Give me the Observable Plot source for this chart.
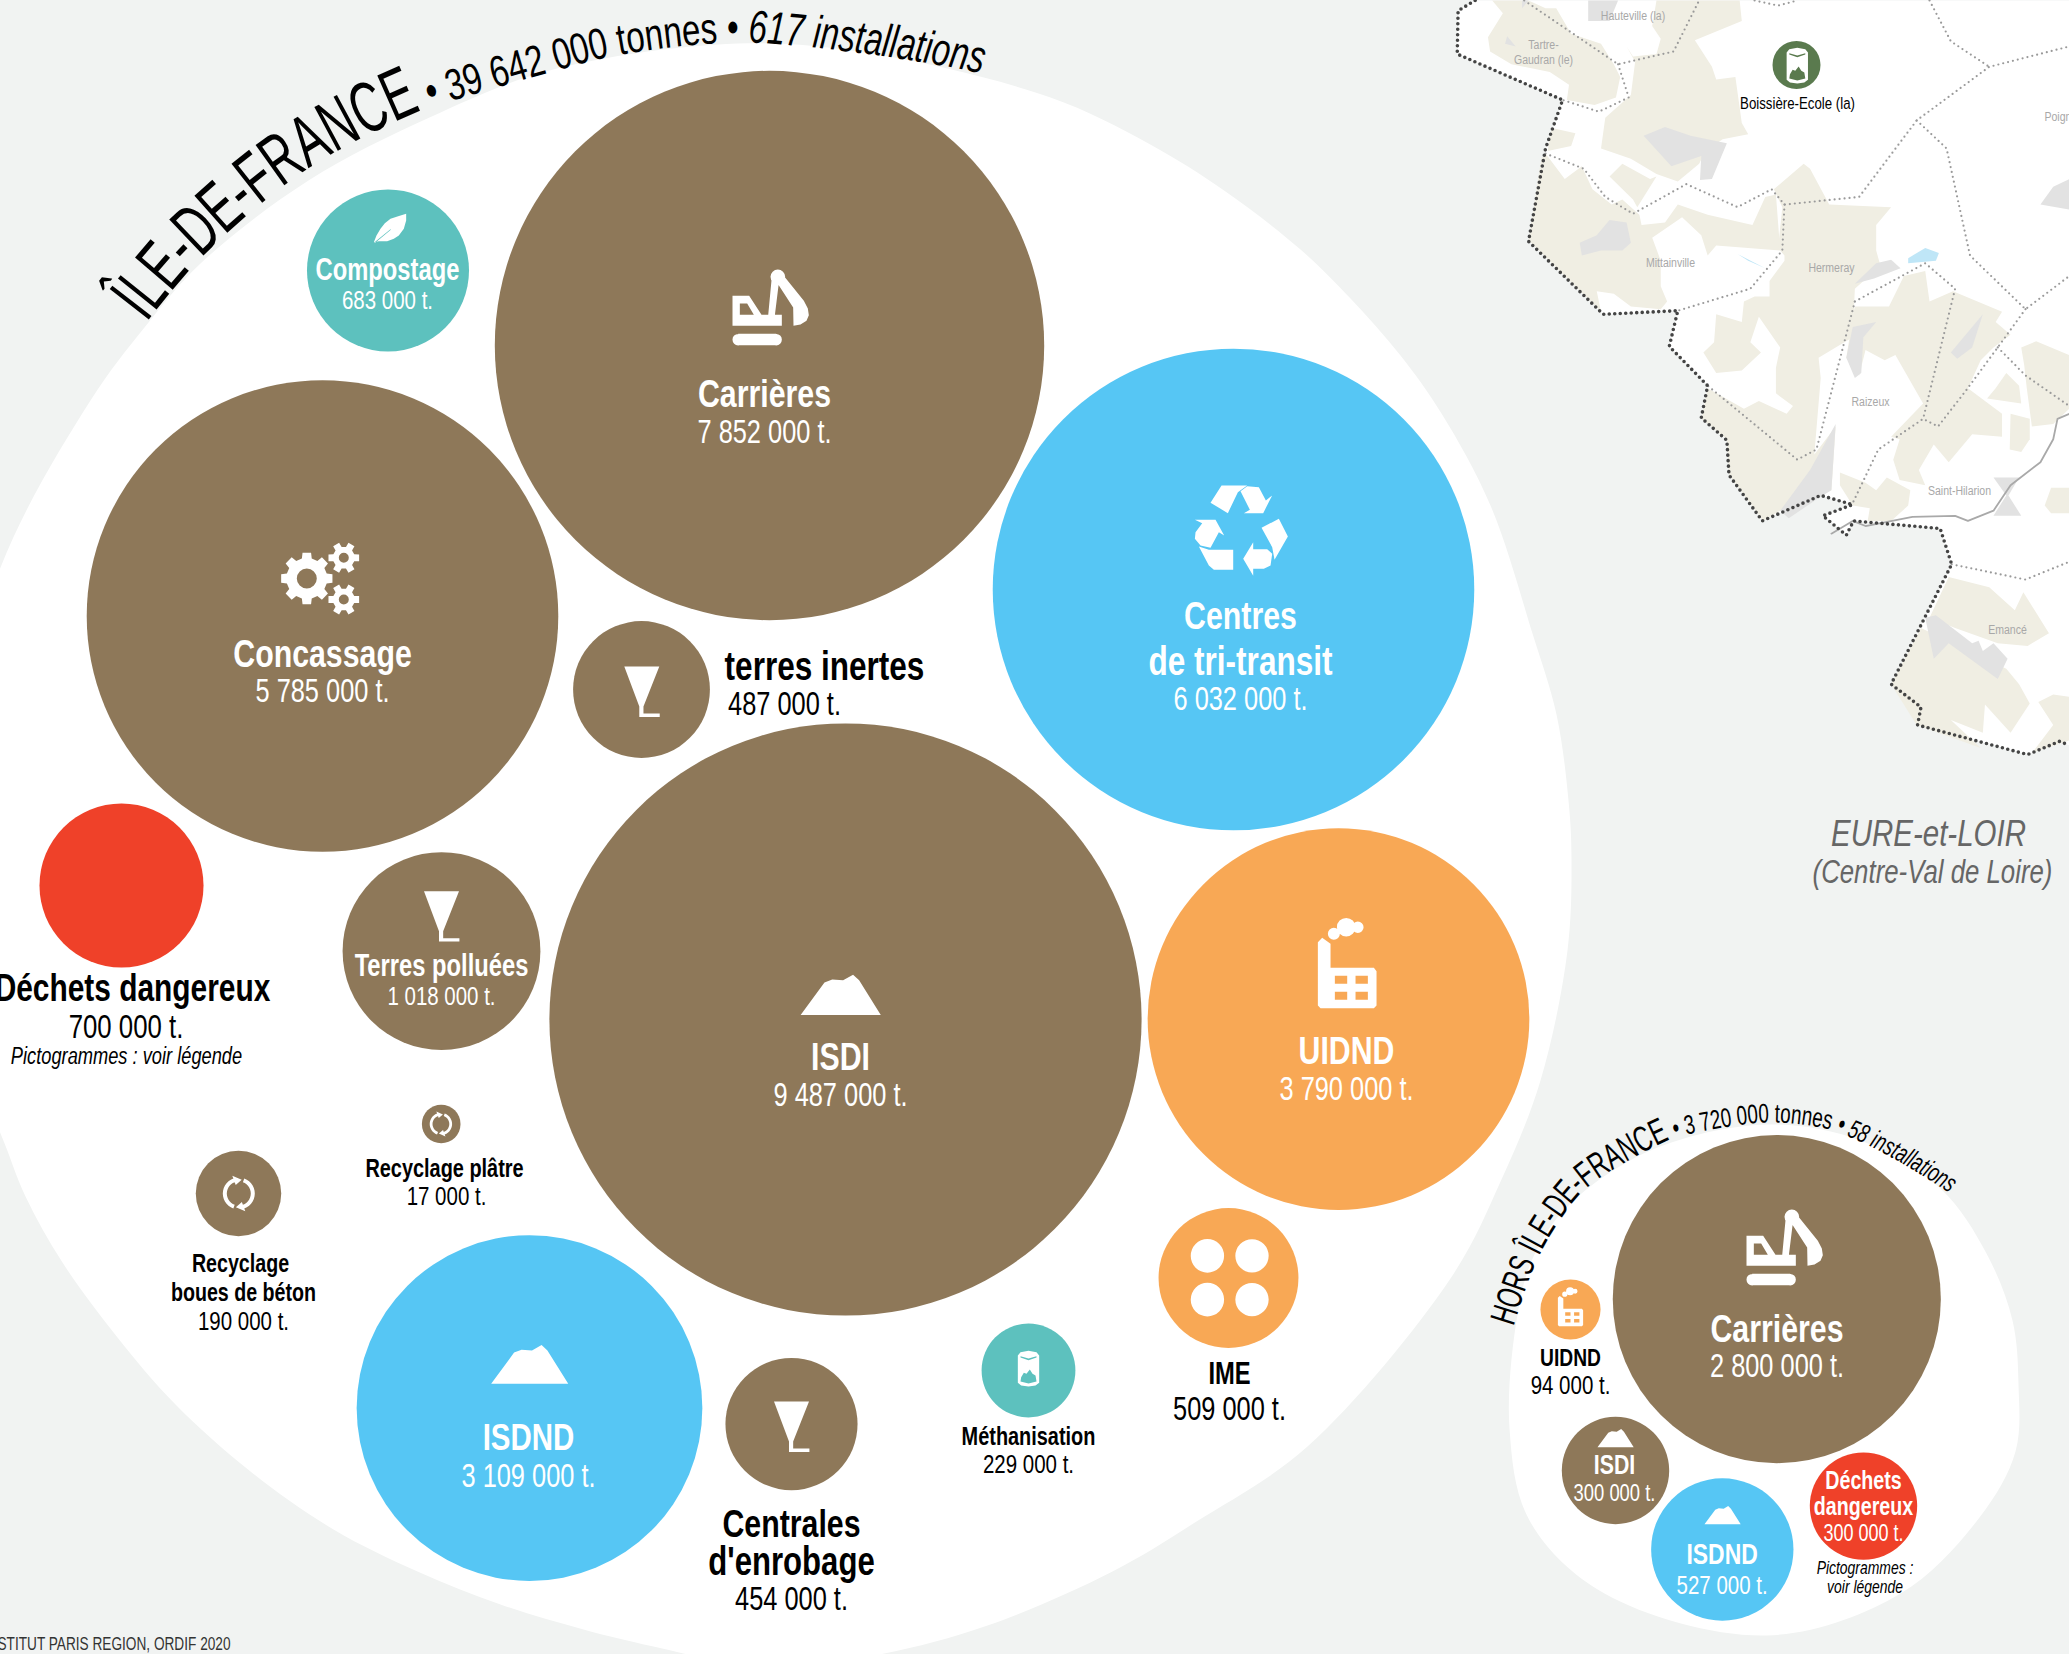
<!DOCTYPE html>
<html lang="fr">
<head>
<meta charset="utf-8">
<title>Installations de traitement des déchets de chantier</title>
<script src="https://cdn.jsdelivr.net/npm/d3@7"></script>
<script src="https://cdn.jsdelivr.net/npm/@observablehq/plot@0.6"></script>
<style>
  html, body { margin: 0; padding: 0; background: #f1f3f2; overflow: hidden; }
  svg { display: block; }
</style>
</head>
<body>
<div id="chart"></div>
<script>
// ---------- Values ----------
const bubbleNames = ["Compostage","Carrières","Concassage","terres inertes","Centres de tri-transit","ISDI","UIDND","Déchets dangereux","Terres polluées","Recyclage plâtre","Recyclage boues de béton","ISDND","Centrales d'enrobage","Méthanisation","IME",
  "Hors Carrières","Hors UIDND","Hors ISDI","Hors ISDND","Hors Déchets dangereux"];
const labelledTonnes = [683000,7852000,5785000,487000,6032000,9487000,3790000,700000,1018000,17000,190000,3109000,454000,229000,509000,2800000,94000,300000,527000,300000];
// Tonnage that the area of each disc shows as drawn (ISDI and Recyclage plâtre are drawn off their label)
const drawnTonnes = [683000,7852000,5785000,487000,6032000,9123000,3790000,700000,1018000,38800,190000,3109000,454000,229000,509000,2800000,94000,300000,527000,300000];
const bubbleX = [387.5,769,322,641,1233,845,1338,121,441,440.7,238,529,791,1028,1228,1776.3,1570,1615,1721.8,1863];
const bubbleY = [270,345,615.5,689,589,1019,1018.6,885,950.6,1123.5,1193,1407.6,1423.6,1370,1277.5,1298.6,1309,1470,1549,1505.6];
const bubbleFamily = ["bio","inerte","inerte","inerte","tri","inerte","energie","danger","inerte","inerte","inerte","tri","inerte","bio","energie","inerte","energie","inerte","tri","danger"];
const familyColours = {inerte:"#8e7859", tri:"#56c6f4", energie:"#f8a855", bio:"#5dc1be", danger:"#ef4129"};

// Outlines of the two white backdrops and the curved title baselines
const idfBlob = [[-60,800],[0,567],[90,400],[144,327],[200,263],[308,180],[429,117],[549,70],[737,43],[871,53],[1050,97],[1148,143],[1225,191],[1300,249],[1350,298],[1400,355],[1441,413],[1490,505],[1532,633],[1556,714],[1568,800],[1571,858],[1567,950],[1540,1080],[1501,1179],[1450,1278],[1307,1446],[1196,1521],[1112,1571],[987,1625],[879,1654],[770,1668],[653,1646],[583,1629],[500,1604],[417,1571],[333,1529],[250,1471],[175,1404],[117,1337],[62,1262],[25,1196],[0,1133],[-60,1000]];
const horsBlob = [[1766,1124],[1860,1140],[1940,1188],[1986,1253],[2012,1320],[2018,1384],[2015,1451],[1979,1517],[1900,1593],[1766,1635],[1604,1593],[1529,1520],[1509,1428],[1517,1314],[1533,1256],[1568,1205],[1650,1150]];
const idfBaseline = [[140,330],[200,258],[308,168],[425,108],[459,98],[549,72],[616,55],[710,43],[750,42],[871,54],[985,74],[1030,88]];
const horsBaseline = [[1513,1326],[1535,1263],[1560,1219],[1588,1186],[1667,1140],[1683,1135],[1766,1122],[1825,1128],[1845,1135],[1884,1153],[1955,1197],[1975,1215]];
const idfTitle = [["ÎLE-DE-FRANCE",72,"normal",352],[" • 39 642 000 tonnes • ",44,"normal",335],["617 installations",46,"italic",236]];
const horsTitle = [["HORS ÎLE-DE-FRANCE",36,"normal",255],[" • 3 720 000 tonnes • ",27,"normal",180],["58 installations",26,"italic",118]];

// Background map, traced in the map's own units
const mapLand = [
 [[215,0],[240,25],[205,72],[210,100],[260,125],[350,140],[395,165],[390,195],[455,205],[505,190],[515,150],[500,125],[470,85],[400,65],[365,15],[340,15],[300,0]],
 [[600,0],[795,0],[800,40],[690,78],[730,130],[740,155],[785,150],[800,240],[815,262],[755,272],[715,295],[700,320],[650,355],[600,340],[540,310],[470,290],[480,230],[540,185],[550,120],[530,90],[545,110],[600,105],[610,75],[590,50]],
 [[340,300],[385,350],[425,325],[450,370],[495,400],[520,390],[560,420],[565,440],[620,435],[650,400],[720,420],[825,440],[855,385],[880,380],[890,490],[740,480],[720,500],[705,460],[660,425],[590,465],[610,510],[610,560],[625,590],[610,605],[540,600],[500,575],[460,570],[470,610],[300,470],[330,310]],
 [[895,405],[875,370],[945,320],[960,330],[1005,400],[1150,405],[1115,440],[1115,490],[1125,520],[1065,565],[1060,660],[980,700],[985,740],[970,890],[1020,835],[1010,960],[890,1000],[850,1020],[770,930],[765,860],[705,820],[720,760],[805,800],[840,785],[905,810],[920,795],[880,770],[880,720],[890,680],[840,620],[820,670],[845,690],[800,725],[740,730],[710,690],[735,670],[740,615],[800,630],[805,590],[830,580],[865,580],[865,550],[900,510],[900,500],[885,485]],
 [[1065,600],[1145,600],[1180,540],[1230,530],[1240,590],[1295,570],[1410,610],[1395,630],[1430,655],[1390,680],[1360,705],[1330,760],[1410,810],[1410,855],[1340,850],[1285,905],[1250,870],[1215,920],[1230,950],[1170,940],[1155,900],[1170,860],[1150,855],[1225,790],[1160,695],[1135,705],[1090,685],[1075,735],[1045,700],[1060,620]],
 [[1395,760],[1420,730],[1450,755],[1455,790],[1415,785],[1375,780]],
 [[1455,680],[1490,668],[1568,695],[1568,800],[1530,830],[1480,835],[1468,760],[1462,715]],
 [[1430,810],[1475,820],[1475,860],[1455,885],[1428,880]],
 [[1030,925],[1090,945],[1115,960],[1140,935],[1195,960],[1190,990],[1150,1020],[1095,1020],[1100,995],[1060,990],[1030,950]],
 [[1510,990],[1525,955],[1568,955],[1568,1005],[1525,1005]],
 [[1285,1130],[1380,1150],[1440,1195],[1460,1160],[1520,1240],[1470,1265],[1400,1260],[1300,1230],[1240,1210]],
 [[1220,1230],[1420,1310],[1450,1340],[1475,1378],[1430,1435],[1370,1380],[1365,1435],[1290,1410],[1360,1465],[1210,1420],[1150,1340]],
 [[1495,1375],[1530,1360],[1568,1365],[1568,1450],[1480,1475],[1530,1420]],
 [[355,250],[410,260],[400,285],[345,295],[350,265]],
 [[490,345],[520,320],[585,350],[600,345],[555,405],[545,390]]
];
const mapUrban = [
 [[570,265],[620,248],[680,265],[765,280],[730,350],[702,352],[705,305],[635,325]],
 [[420,475],[460,460],[490,430],[530,435],[540,475],[520,490],[470,490],[425,500]],
 [[1065,555],[1115,515],[1150,508],[1172,525],[1110,545]],
 [[1045,700],[1060,640],[1115,630],[1085,660],[1080,730],[1065,740]],
 [[1290,690],[1365,615],[1340,680],[1305,702]],
 [[890,1000],[960,920],[1020,830],[1010,960],[980,975],[910,1015]],
 [[1390,935],[1450,935],[1425,970],[1455,1010],[1390,1010],[1420,970]],
 [[1500,400],[1530,365],[1568,350],[1568,410]],
 [[1230,1210],[1255,1205],[1340,1260],[1355,1255],[1365,1275],[1390,1260],[1423,1290],[1400,1330],[1285,1260],[1250,1290]],
 [[440,0],[510,0],[490,40],[440,40]],
 [[250,70],[270,90],[245,85]],
 [[285,0],[300,0],[285,15]]
];
const mapWater = [
 [[1190,505],[1230,485],[1262,495],[1255,510],[1190,515]],
 [[790,497],[855,525],[815,510]]
];
const mapRoad = [[1010,1045],[1060,1020],[1090,1030],[1200,1012],[1300,1010],[1330,1020],[1390,1000],[1430,950],[1500,905],[1530,860],[1540,820],[1568,810]];
const mapBorder = [[175,0],[135,20],[133,105],[380,195],[340,290],[300,472],[475,615],[650,608],[630,678],[720,755],[705,818],[765,862],[770,930],[848,1020],[985,970],[1060,988],[990,1010],[1045,1048],[1062,1020],[1265,1035],[1292,1105],[1150,1340],[1220,1385],[1212,1420],[1470,1478],[1545,1452],[1568,1460]];
const mapCommunes = [
 [[290,0],[510,125],[640,100],[700,0]],
 [[510,125],[535,190],[465,218],[380,195]],
 [[340,300],[430,330],[480,385],[545,418],[670,360],[790,405],[870,370],[900,400],[1075,385],[1210,235],[1380,130],[1568,90]],
 [[1240,0],[1290,80],[1380,130]],
 [[900,400],[895,490],[820,565],[650,608]],
 [[1210,235],[1280,290],[1335,500],[1465,605],[1568,540]],
 [[1465,605],[1400,680],[1325,765],[1260,835],[1225,820],[1120,880],[1060,985]],
 [[1065,590],[1230,515],[1300,565],[1225,820]],
 [[1065,590],[975,880],[930,900],[720,755]],
 [[1400,680],[1465,735],[1568,795]],
 [[1292,1105],[1465,1135],[1568,1100]],
 [[830,0],[885,10],[930,0]]
];
const mapU = u => 1400 + u / 2.344, mapV = v => v / 1.96;
const mapNames = [["Hauteville (la)",1632.5,15],["Tartre-",1543,44],["Gaudran (le)",1543,59],["Mittainville",1670,262],["Hermeray",1831,267],["Raizeux",1870,401.5],["Saint-Hilarion",1959,490],["Emancé",2007,629]];
const siteDot = [["Boissière-Ecole (la)",1796,64.5,24]];

// Text rows: text, x, y, size, colour key
const boldLabels = [
 ["Compostage",387,268.5,29,"w"],["Carrières",764,393,37,"w"],["Concassage",322,653,37,"w"],["terres inertes",824,665,38.5,"k"],["Centres",1240,615,37,"w"],["de tri-transit",1240,660,38.5,"w"],
 ["ISDI",840,1056,37,"w"],["UIDND",1346,1050,37,"w"],["Terres polluées",441,964,29,"w"],["Déchets dangereux",132,987,36.5,"k"],["Recyclage plâtre",444,1166.5,24.3,"k"],["Recyclage",240,1261.5,24,"k"],["boues de béton",243,1291,24,"k"],
 ["ISDND",528,1436,36,"w"],["Centrales",791,1523,37,"k"],["d'enrobage",791,1560,38,"k"],["Méthanisation",1028,1435,24.3,"k"],["IME",1229,1372,29,"k"],
 ["Carrières",1776.5,1328,37,"w"],["UIDND",1570,1356,23.5,"k"],["ISDI",1614,1463.5,26,"w"],["ISDND",1721.6,1553,28,"w"],["Déchets",1863,1479,24,"w"],["dangereux",1863,1505,24,"w"]
];
const valueLabels = [
 ["683 000 t.",387,299,25,"w"],["7 852 000 t.",764,431,31,"w"],["5 785 000 t.",322,690,31,"w"],["487 000 t.",784,703,31,"k"],["6 032 000 t.",1240,698,31,"w"],["9 487 000 t.",840,1094,31,"w"],["3 790 000 t.",1346,1088,31,"w"],
 ["1 018 000 t.",441,994.5,25,"w"],["700 000 t.",125.5,1025,31.5,"k"],["17 000 t.",446,1195,25,"k"],["190 000 t.",243,1320,25,"k"],["3 109 000 t.",528,1475,31,"w"],["454 000 t.",791,1598,31,"k"],["229 000 t.",1028,1463,25,"k"],["509 000 t.",1229,1407.5,31,"k"],
 ["2 800 000 t.",1776.5,1365,31,"w"],["94 000 t.",1570,1384,25,"k"],["300 000 t.",1614,1491,22.5,"w"],["527 000 t.",1721.6,1584,25,"w"],["300 000 t.",1863,1532,22,"w"]
];
const italicLabels = [["Pictogrammes : voir légende",126,1054,22.3],["Pictogrammes :",1864.5,1566.5,17],["voir légende",1864.5,1585.5,17]];
const regionLabels = [["EURE-et-LOIR",1928,832,36],["(Centre-Val de Loire)",1932,870,31.5]];
const creditLine = ["INSTITUT PARIS REGION, ORDIF 2020",230,1644,17.5];

// Pictograms: shape, x, y, scale
const pictos = [
 ["excavator",770,307,1],["excavator",1784,1247,1],["recycle",1240.7,527.3,1],["gears",320,578,1],["factory",1346.7,966.7,1],["factory",1570,1308,.43],
 ["leaf",390,227.3,1],["funnel",791,1426,1],["funnel",641.3,691,1],["funnel",441,915.7,1],["mountain",529,1364.6,1],["mountain",840,995,1.04],["mountain",1615,1438,.47],["mountain",1722,1515,.47],
 ["arrows",238.3,1193,1],["arrows",440.4,1123.5,.7],["dots",1229,1277,1],["can",1028,1368.3,1],["can",1796.8,65.3,1]
];

// ---------- Pictogram shapes, drawn through custom dot symbols ----------
function poly(ctx, k, pts, hole = false, cx = 0, cy = 0, f = 1) {
  const q = pts.map(([x, y]) => [(x - cx) / f, (y - cy) / f]);
  let a = 0;
  q.forEach(([x, y], i) => { const [u, v] = q[(i + 1) % q.length]; a += x * v - u * y; });
  if ((a > 0) === hole) q.reverse();
  q.forEach(([x, y], i) => i ? ctx.lineTo(x * k, y * k) : ctx.moveTo(x * k, y * k));
  ctx.closePath();
}
function disc(ctx, k, x, y, r, hole = false) {
  ctx.moveTo((x + r) * k, y * k);
  ctx.arc(x * k, y * k, r * k, 0, 2 * Math.PI, hole);
  ctx.closePath();
}
function gear(ctx, k, cx, cy, n, ro, rm, rh) {
  const pts = [], w = Math.PI / n;
  for (let i = 0; i < n; i++) {
    const a = i * 2 * w;
    [[rm, -.62], [ro, -.42], [ro, .42], [rm, .62]].forEach(([r, t]) =>
      pts.push([cx + r * Math.cos(a + t * w), cy + r * Math.sin(a + t * w)]));
  }
  poly(ctx, k, pts);
  disc(ctx, k, cx, cy, rh, true);
}
function arc2(ctx, k, a0, a1, ri, ro) {
  const R = Math.PI / 180, pts = [];
  for (let a = a0; a <= a1; a += 10) pts.push([ro * Math.cos(a * R), ro * Math.sin(a * R)]);
  for (let a = a1; a >= a0; a -= 10) pts.push([ri * Math.cos(a * R), ri * Math.sin(a * R)]);
  poly(ctx, k, pts);
  const m = (ri + ro) / 2;
  poly(ctx, k, [[(ri - 3) * Math.cos(a1 * R), (ri - 3) * Math.sin(a1 * R)], [(ro + 3) * Math.cos(a1 * R), (ro + 3) * Math.sin(a1 * R)], [m * Math.cos((a1 + 32) * R), m * Math.sin((a1 + 32) * R)]]);
}
const shapes = {
  excavator(c, k) {
    const o = [210, 232, 3];
    poly(c, k, [[96,197],[146,197],[183,254],[244,254],[244,287],[96,287]], false, ...o);
    poly(c, k, [[118,220],[140,220],[160,254],[118,254]], true, ...o);
    poly(c, k, [[203,256],[213,150],[236,150],[223,256]], false, ...o);
    poly(c, k, [[240,125],[310,212],[322,235],[325,255],[318,272],[300,283],[279,287],[278,232],[225,150]], false, ...o);
    disc(c, k, 22/3, -92/3, 22/3);
    poly(c, k, [[113,311],[227,311],[227,345],[113,345]], false, ...o);
    disc(c, k, -97/3, 96.5/3, 17/3); disc(c, k, 17/3, 96.5/3, 17/3);
  },
  recycle(c, k) {
    const o = [272, 232, 3];
    [[[180,157],[213,105],[290,105],[262,125],[232,188]],
     [[270,122],[290,107],[325,110],[346,150],[365,135],[338,188],[280,188],[298,178]],
     [[333,232],[385,205],[412,258],[372,328],[365,290]],
     [[308,275],[308,296],[350,296],[365,310],[360,345],[340,355],[308,355],[308,376],[278,325]],
     [[145,288],[175,298],[248,298],[248,358],[190,358],[175,345]],
     [[133,208],[195,208],[221,255],[205,245],[180,292],[150,285],[133,265],[135,245],[155,218]]]
      .forEach(p => poly(c, k, p, false, ...o));
  },
  gears(c, k) {
    gear(c, k, -13.7, 0, 8, 26, 20.5, 10);
    gear(c, k, 23.3, -20.7, 6, 15.7, 11, 5);
    gear(c, k, 23.3, 21, 6, 15.7, 11, 5);
  },
  factory(c, k) {
    const o = [200, 200, 3];
    poly(c, k, [[112,125],[125,112],[150,130],[150,202],[280,202],[288,212],[288,315],[280,323],[120,323],[112,315]], false, ...o);
    [[163,226],[225,226],[163,274],[225,274]].forEach(([x, y]) =>
      poly(c, k, [[x,y],[x+37,y],[x+37,y+24],[x,y+24]], true, ...o));
    disc(c, k, -40/3, -100/3, 6); disc(c, k, -3/3, -120/3, 9.3); disc(c, k, 32/3, -120/3, 5.7);
  },
  leaf(c, k) {
    const o = [75, 82, 3];
    poly(c, k, [[25,125],[33,105],[45,85],[58,68],[75,55],[98,47],[122,40],[122,60],[115,85],[100,105],[85,115],[65,122],[40,122]], false, ...o);
    poly(c, k, [[27,125],[75,86],[76,88],[30,126]], true, ...o);
  },
  funnel(c, k) {
    const o = [329, 1022, 2.4];
    poly(c, k, [[287,962],[371,962],[333,1058],[333,1075],[372,1075],[372,1083],[323,1083],[323,1058]], false, ...o);
  },
  mountain(c, k) {
    const o = [1269, 875, 2.4];
    poly(c, k, [[1177,920],[1232,845],[1250,838],[1275,840],[1298,827],[1312,840],[1362,920]], false, ...o);
  },
  arrows(c, k) {
    arc2(c, k, 110, 250, 12, 16);
    arc2(c, k, 290, 430, 12, 16);
  },
  dots(c, k) {
    [[1327,613],[1434,613],[1327,718],[1434,718]].forEach(([x, y]) => disc(c, k, (x - 1380) / 2.4, (y - 665) / 2.4, 40 / 2.4));
  },
  can(c, k) {
    const o = [84, 100, 3];
    poly(c, k, [[52,60],[60,50],[84,46],[108,50],[116,60],[116,142],[105,150],[84,153],[62,150],[52,142]], false, ...o);
    poly(c, k, [[60,62],[84,69],[108,62],[108,66],[84,74],[60,66]], true, ...o);
    poly(c, k, [[60,138],[62,125],[70,112],[78,115],[88,102],[96,115],[105,120],[108,138],[84,144]], true, ...o);
  }
};
const symbolFor = (name, k) => ({ draw: ctx => shapes[name](ctx, k) });

// ---------- Tables for the marks ----------
const bubbles = bubbleNames.map((name, i) => ({
  name, tonnes: labelledTonnes[i], drawn: drawnTonnes[i], x: bubbleX[i], y: bubbleY[i], colour: familyColours[bubbleFamily[i]]
}));
const polygonRows = (list, prefix) => list.flatMap((pts, i) => pts.map(([u, v]) => ({ id: prefix + i, x: mapU(u), y: mapV(v) })));
const landRows = [...mapBorder, [1568, 0]].map(([u, v]) => ({ id: "land", x: mapU(u), y: mapV(v) }));
const TEXT_DY = 1.5, SIZE_UP = 1.05, SQUEEZE = .78;
const textRows = list => list.map(([text, x, y, size, c]) => ({ text, x, y: y + TEXT_DY, size: size * SIZE_UP, fill: c === "w" ? "#fff" : "#000" }));
const FONT = "'Liberation Sans',sans-serif";

// The reference sets everything in a condensed face: squeeze each text horizontally
function squeeze(index, scales, values, dimensions, context, next) {
  const g = next(index, scales, values, dimensions, context);
  g.querySelectorAll("text").forEach(t => {
    t.setAttribute("transform", (t.getAttribute("transform") || "") + ` scale(${SQUEEZE},1)`);
  });
  return g;
}

// Curved title: one real text element set along a path through the baseline points
function curvedTitle(parts, baseline, id, startOffset) {
  return Plot.text([{ text: parts.map(p => p[0]).join(""), x: baseline[0][0], y: baseline[0][1] }], {
    x: "x", y: "y", text: "text", fontFamily: FONT, fill: "#000",
    render(index, scales, values, dimensions, context, next) {
      const g = next(index, scales, values, dimensions, context);
      const NS = "http://www.w3.org/2000/svg";
      const defs = document.createElementNS(NS, "defs");
      const path = document.createElementNS(NS, "path");
      path.setAttribute("id", id);
      path.setAttribute("d", d3.line().x(d => scales.x(d[0])).y(d => scales.y(d[1])).curve(d3.curveCatmullRom.alpha(.5))(baseline));
      defs.appendChild(path);
      g.insertBefore(defs, g.firstChild);
      g.querySelectorAll("text").forEach(el => {
        el.removeAttribute("transform");
        el.removeAttribute("x"); el.removeAttribute("y");
        el.setAttribute("text-anchor", "start");
        el.style.whiteSpace = "pre";
        el.textContent = "";
        const tp = document.createElementNS(NS, "textPath");
        tp.setAttribute("href", "#" + id);
        tp.setAttribute("startOffset", startOffset);
        parts.forEach(([t, size, style, length]) => {
          const s = document.createElementNS(NS, "tspan");
          s.setAttribute("font-size", size);
          s.setAttribute("font-style", style);
          s.setAttribute("textLength", length);
          s.setAttribute("lengthAdjust", "spacingAndGlyphs");
          s.textContent = t;
          tp.appendChild(s);
        });
        el.appendChild(tp);
      });
      return g;
    }
  });
}

const textMark = (rows, opts) => Plot.text(rows, {
  x: "x", y: "y", text: "text", fontSize: "size", fill: "fill", fontFamily: FONT,
  textAnchor: "middle", lineAnchor: "middle", render: squeeze, ...opts
});

const fillPoly = (rows, fill, curve) => Plot.line(rows, { x: "x", y: "y", z: "id", fill, stroke: "none", curve: curve || "linear" });

const chart = Plot.plot({
  width: 2069, height: 1654,
  marginTop: 0, marginRight: 0, marginBottom: 0, marginLeft: 0,
  style: { background: "#f1f3f2", overflow: "hidden" },
  x: { domain: [0, 2069], range: [0, 2069], axis: null },
  y: { domain: [0, 1654], range: [0, 1654], axis: null },
  r: { type: "sqrt", domain: [0, 10000000], range: [0, 310] },
  marks: [
    // map
    fillPoly(landRows, "#fff"),
    fillPoly(polygonRows(mapLand, "l"), "#f0eee3"),
    fillPoly(polygonRows(mapUrban, "u"), "#e2e2e2"),
    fillPoly(polygonRows(mapWater, "w"), "#bfe6f7"),
    Plot.line(polygonRows(mapCommunes, "c"), { x: "x", y: "y", z: "id", stroke: "#9a9a9a", strokeWidth: 2.2, strokeDasharray: "0,5", strokeLinecap: "round" }),
    Plot.line(polygonRows([mapRoad], "r"), { x: "x", y: "y", z: "id", stroke: "#a9a9a9", strokeWidth: 1.8 }),
    Plot.line(polygonRows([mapBorder], "b"), { x: "x", y: "y", z: "id", stroke: "#444", strokeWidth: 3.6, strokeDasharray: "0,5.5", strokeLinecap: "round" }),
    textMark(mapNames.map(([text, x, y]) => ({ text, x, y, size: 13.5, fill: "#a8a8a8" })), {}),
    textMark([{ text: "Poign", x: 2044, y: 116, size: 13.5, fill: "#a8a8a8" }], { textAnchor: "start" }),
    // white backdrops
    fillPoly(idfBlob.map(([x, y]) => ({ id: "idf", x, y })), "#fff", "catmull-rom-closed"),
    fillPoly(horsBlob.map(([x, y]) => ({ id: "hors", x, y })), "#fff", "catmull-rom-closed"),
    // discs
    Plot.dot(bubbles, { x: "x", y: "y", r: "drawn", fill: "colour", stroke: "none" }),
    Plot.dot(siteDot, { x: d => d[1], y: d => d[2], symbol: { draw: (ctx) => disc(ctx, 1, 0, 0, siteDot[0][3]) }, fill: "#5a7a4e", stroke: "none" }),
    // pictograms
    Plot.dot(pictos, { x: d => d[1], y: d => d[2], symbol: d => symbolFor(d[0], d[3]), fill: "#fff", stroke: "none" }),
    // labels
    textMark(textRows(boldLabels), { fontWeight: 700 }),
    textMark(textRows(valueLabels), {}),
    textMark(textRows(italicLabels), { fontStyle: "italic" }),
    textMark(textRows(regionLabels).map(d => ({ ...d, fill: "#666" })), { fontStyle: "italic" }),
    textMark([{ text: creditLine[0], x: creditLine[1], y: creditLine[2], size: creditLine[3], fill: "#333" }], { textAnchor: "end" }),
    textMark([{ text: siteDot[0][0], x: 1797, y: 103, size: 17, fill: "#000" }], {}),
    curvedTitle(idfTitle, idfBaseline, "arc-idf", 10),
    curvedTitle(horsTitle, horsBaseline, "arc-hors", 0)
  ]
});
document.getElementById("chart").appendChild(chart);
</script>
</body>
</html>
